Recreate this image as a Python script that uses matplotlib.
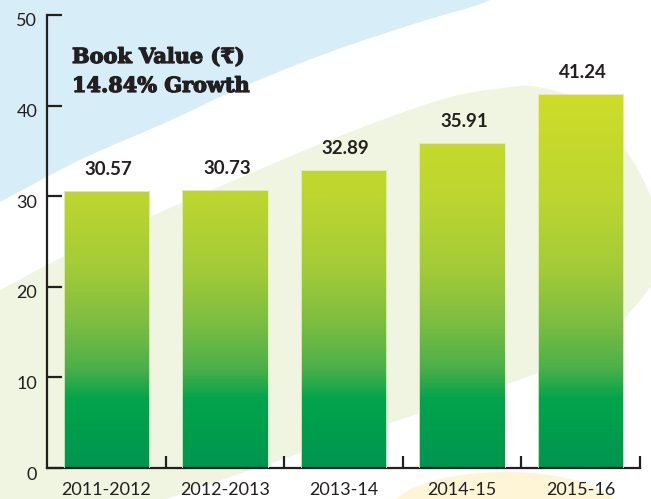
import matplotlib
matplotlib.use('Agg')
import matplotlib.pyplot as plt
import matplotlib.patheffects as pe
import numpy as np
from matplotlib.colors import LinearSegmentedColormap
from matplotlib.patches import Polygon, Ellipse
from matplotlib.transforms import ScaledTranslation

# ---- data ----
years = ['2011-2012', '2012-2013', '2013-14', '2014-15', '2015-16']
book_value = [30.57, 30.73, 32.89, 35.91, 41.24]
y_ticks = [0, 10, 20, 30, 40, 50]
title_lines = ['Book Value (\u20b9)', '14.84% Growth']

ink = '#231f20'


def catmull(points, n=20):
    """ smooth closed curve through the given pixel points """
    pts = np.array(points, dtype=float)
    out = []
    m = len(pts)
    for i in range(m):
        p0, p1, p2, p3 = pts[i - 1], pts[i], pts[(i + 1) % m], pts[(i + 2) % m]
        for t in np.linspace(0, 1, n, endpoint=False):
            t2, t3 = t * t, t * t * t
            out.append(0.5 * ((2 * p1) + (-p0 + p2) * t
                              + (2 * p0 - 5 * p1 + 4 * p2 - p3) * t2
                              + (-p0 + 3 * p1 - 3 * p2 + p3) * t3))
    return np.array(out)


fig = plt.figure(figsize=(6.51, 4.99), dpi=100)

#----------------------
#  Background shapes
#----------------------
bg = fig.add_axes([0, 0, 1, 1], zorder=-1)
bg.set_xlim(0, 651)
bg.set_ylim(499, 0)
bg.axis('off')

blue = [(-20, -20), (500, -20), (490, 0), (420, 22), (330, 52), (240, 88),
        (167, 122), (80, 160), (0, 202), (-20, 212)]
bg.add_patch(Polygon(catmull(blue, 8), closed=True, color='#d7eef9', lw=0))

leaf = [(-20, 300), (0, 290), (63, 257), (150, 217), (200, 195), (330, 140),
        (440, 100), (503, 88), (538, 87), (580, 102), (622, 145), (652, 200),
        (664, 258), (630, 312), (580, 350), (538, 373), (330, 443),
        (167, 499), (60, 540), (-20, 540)]
bg.add_patch(Polygon(catmull(leaf, 10), closed=True, color='#eff5e0', lw=0))

bg.add_patch(Ellipse((505, 512), 230, 80, color='#fef5d6', lw=0))

#-----------------
#  Main axes
#-----------------
ax = fig.add_axes([47 / 651, 1 - 468 / 499, 593 / 651, 453 / 499])
ax.set_facecolor('none')

x = np.arange(len(years))
bars = ax.bar(x, book_value, width=0.72, color='none',
              edgecolor='#e9f0c0', linewidth=0.6, zorder=3)

cmap = LinearSegmentedColormap.from_list('bv', [
    (0.0, '#009550'), (7.5 / 50, '#00a54b'), (11 / 50, '#4db049'),
    (16 / 50, '#7dbd41'), (22 / 50, '#a4cb38'), (30 / 50, '#bdd630'),
    (42 / 50, '#cfdd28'), (1.0, '#d4df27')])

for bar in bars:
    x0, w, h = bar.get_x(), bar.get_width(), bar.get_height()
    grad = np.linspace(0, h, 256).reshape(-1, 1)
    im = ax.imshow(grad, cmap=cmap, vmin=0, vmax=50, origin='lower',
                   extent=[x0, x0 + w, 0, h], aspect='auto', zorder=2)
    im.set_clip_path(bar)

for xi, v in zip(x, book_value):
    ax.annotate(f'{v:.2f}', (xi, v), xytext=(1.5, 11.5),
                textcoords='offset points', ha='center', va='baseline',
                fontsize=13.5, fontweight='bold', family='Lato', color=ink)

ax.set_xlim(-0.5, len(years) - 0.5)
ax.set_ylim(0, 50)

for side in ['top', 'right']:
    ax.spines[side].set_visible(False)
for side in ['left', 'bottom']:
    ax.spines[side].set_color(ink)
    ax.spines[side].set_linewidth(1.6)

ax.set_yticks(y_ticks)
ax.set_yticklabels([str(t) for t in y_ticks], family='Lato', fontsize=13, color=ink)
ax.tick_params(axis='y', direction='in', length=11, width=1.6, color=ink, pad=7)
offset = ScaledTranslation(0, -0.05, fig.dpi_scale_trans)
for lbl in ax.get_yticklabels():
    lbl.set_transform(lbl.get_transform() + offset)

ax.set_xticks(x)
ax.set_xticklabels(years, family='Lato', fontsize=13, color=ink)
ax.tick_params(axis='x', which='major', length=0, pad=10)
ax.set_xticks(x + 0.5, minor=True)
ax.tick_params(axis='x', which='minor', direction='in', length=8.5, width=1.6, color=ink)

# title block, stroked a little to get the heavy slab look
ttl = dict(fontsize=15, fontweight='bold', color=ink,
           family=['DejaVu Serif', 'DejaVu Sans'], va='baseline', ha='left',
           path_effects=[pe.withStroke(linewidth=0.9, foreground=ink)])
fig.text(72 / 651, 1 - 63 / 499, title_lines[0], **ttl)
fig.text(72 / 651, 1 - 92 / 499, title_lines[1], **ttl)

fig.savefig('out.png', dpi=100)
